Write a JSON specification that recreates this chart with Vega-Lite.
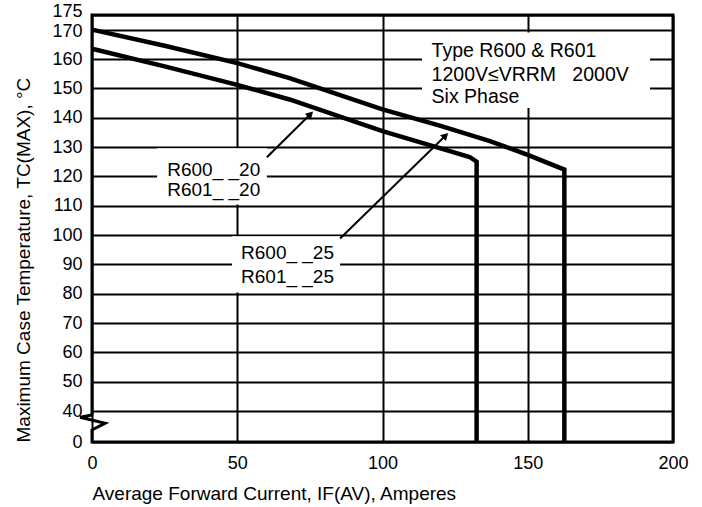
{
  "$schema": "https://vega.github.io/schema/vega-lite/v6.json",
  "autosize": {"type": "none"},
  "padding": {"left": 92, "top": 15, "right": 29, "bottom": 65},
  "width": 581,
  "height": 427,
  "background": "white",
  "config": {
    "font": "Liberation Sans",
    "view": {"stroke": null},
    "axis": {
      "grid": true, "gridColor": "black", "gridOpacity": 1, "gridWidth": 2,
      "domain": false, "ticks": false,
      "labelFont": "Liberation Sans", "labelFontSize": 18, "labelColor": "black",
      "labelOverlap": false, "labelFlush": false, "labelBound": false,
      "titleFont": "Liberation Sans", "titleFontSize": 19, "titleFontWeight": "normal", "titleColor": "black",
      "titleAnchor": "start"
    }
  },
  "datasets": {
    "curves": [
      {"series": "R600_ _20", "seq": 1, "current": 0, "temp": 163.5},
      {"series": "R600_ _20", "seq": 2, "current": 25, "temp": 157.5},
      {"series": "R600_ _20", "seq": 3, "current": 50, "temp": 151.2},
      {"series": "R600_ _20", "seq": 4, "current": 68, "temp": 146.2},
      {"series": "R600_ _20", "seq": 5, "current": 100, "temp": 135.4},
      {"series": "R600_ _20", "seq": 6, "current": 120, "temp": 129.5},
      {"series": "R600_ _20", "seq": 7, "current": 130, "temp": 126.6},
      {"series": "R600_ _20", "seq": 8, "current": 132.4, "temp": 125},
      {"series": "R600_ _20", "seq": 9, "current": 132.4, "temp": 0},
      {"series": "R600_ _25", "seq": 1, "current": 0, "temp": 170},
      {"series": "R600_ _25", "seq": 2, "current": 25, "temp": 164.5},
      {"series": "R600_ _25", "seq": 3, "current": 50, "temp": 158.6},
      {"series": "R600_ _25", "seq": 4, "current": 68, "temp": 153.5},
      {"series": "R600_ _25", "seq": 5, "current": 100, "temp": 142.8},
      {"series": "R600_ _25", "seq": 6, "current": 120, "temp": 137.2},
      {"series": "R600_ _25", "seq": 7, "current": 137, "temp": 132},
      {"series": "R600_ _25", "seq": 8, "current": 150, "temp": 127.3},
      {"series": "R600_ _25", "seq": 9, "current": 162.6, "temp": 122.3},
      {"series": "R600_ _25", "seq": 10, "current": 162.6, "temp": 0}
    ],
    "frame": [
      {"seq": 1, "current": 0, "temp": 34.8},
      {"seq": 2, "current": 0, "temp": 175},
      {"seq": 3, "current": 200, "temp": 175},
      {"seq": 4, "current": 200, "temp": 0},
      {"seq": 5, "current": 0, "temp": 0},
      {"seq": 6, "current": 0, "temp": 15.5},
      {"seq": 7, "current": 4.5, "temp": 24.1},
      {"seq": 8, "current": -4.1, "temp": 31.9},
      {"seq": 9, "current": 0, "temp": 34.8}
    ],
    "boxes": [
      {"current": 22.4, "current2": 60.2, "temp": 110.4, "temp2": 129.6},
      {"current": 48.2, "current2": 85.4, "temp": 80.4, "temp2": 99.6},
      {"current": 113.6, "current2": 192.1, "temp": 143.3, "temp2": 169}
    ],
    "arrows": [
      {"arrow": "a1", "current": 60.2, "temp": 126.5},
      {"arrow": "a1", "current": 75.5, "temp": 141.5},
      {"arrow": "a2", "current": 85.4, "temp": 98.8},
      {"arrow": "a2", "current": 122, "temp": 134.2}
    ],
    "heads": [
      {"arrow": "a1", "current": 75.2, "temp": 141.2},
      {"arrow": "a2", "current": 121.7, "temp": 133.9}
    ],
    "labels": [
      {"text": "R600_ _20", "current": 41.9, "temp": 122.3},
      {"text": "R601_ _20", "current": 41.9, "temp": 115.2},
      {"text": "R600_ _25", "current": 67.3, "temp": 93.8},
      {"text": "R601_ _25", "current": 67.3, "temp": 85.7}
    ],
    "typebox": [
      {"text": "Type R600 & R601", "current": 116.9, "temp": 162.6},
      {"text": "1200V≤VRRM\u00a0\u00a0\u00a02000V", "current": 116.9, "temp": 154.6},
      {"text": "Six Phase", "current": 116.9, "temp": 147.2}
    ]
  },
  "encoding": {
    "x": {
      "field": "current", "type": "quantitative",
      "scale": {"domain": [0, 200], "nice": false, "zero": false},
      "axis": {
        "values": [0, 50, 100, 150, 200],
        "labelPadding": 12,
        "title": "Average Forward Current, IF(AV), Amperes",
        "titlePadding": 12
      }
    },
    "y": {
      "field": "temp", "type": "quantitative",
      "scale": {"domain": [0, 40, 175], "range": [427, 396, 0], "nice": false, "zero": false},
      "axis": {
        "values": [0, 40, 50, 60, 70, 80, 90, 100, 110, 120, 130, 140, 150, 160, 170, 175],
        "labelPadding": 10,
        "labelOffset": {"condition": [{"test": "datum.value == 175", "value": -4}, {"test": "datum.value == 170", "value": 1.5}], "value": 0},
        "title": "Maximum Case Temperature, TC(MAX), °C",
        "titlePadding": 18
      }
    }
  },
  "layer": [
    {
      "data": {"name": "boxes"},
      "mark": {"type": "rect", "fill": "white", "stroke": null},
      "encoding": {
        "x2": {"field": "current2"},
        "y2": {"field": "temp2"}
      }
    },
    {
      "data": {"name": "frame"},
      "mark": {"type": "line", "color": "black", "strokeWidth": 3, "strokeJoin": "miter", "clip": false},
      "encoding": {"order": {"field": "seq", "type": "quantitative"}}
    },
    {
      "data": {"name": "curves"},
      "mark": {"type": "line", "color": "black", "strokeWidth": 4.5, "strokeJoin": "miter"},
      "encoding": {
        "detail": {"field": "series", "type": "nominal"},
        "order": {"field": "seq", "type": "quantitative"}
      }
    },
    {
      "data": {"name": "arrows"},
      "mark": {"type": "line", "color": "black", "strokeWidth": 2},
      "encoding": {"detail": {"field": "arrow", "type": "nominal"}}
    },
    {
      "data": {"name": "heads"},
      "mark": {"type": "point", "shape": "triangle-up", "filled": true, "color": "black", "opacity": 1, "size": 70, "angle": 45}
    },
    {
      "data": {"name": "labels"},
      "mark": {"type": "text", "fontSize": 19, "color": "black", "align": "center", "baseline": "middle", "font": "Liberation Sans"},
      "encoding": {"text": {"field": "text"}}
    },
    {
      "data": {"name": "typebox"},
      "mark": {"type": "text", "fontSize": 19.5, "color": "black", "align": "left", "baseline": "middle", "font": "Liberation Sans"},
      "encoding": {"text": {"field": "text"}}
    }
  ]
}
